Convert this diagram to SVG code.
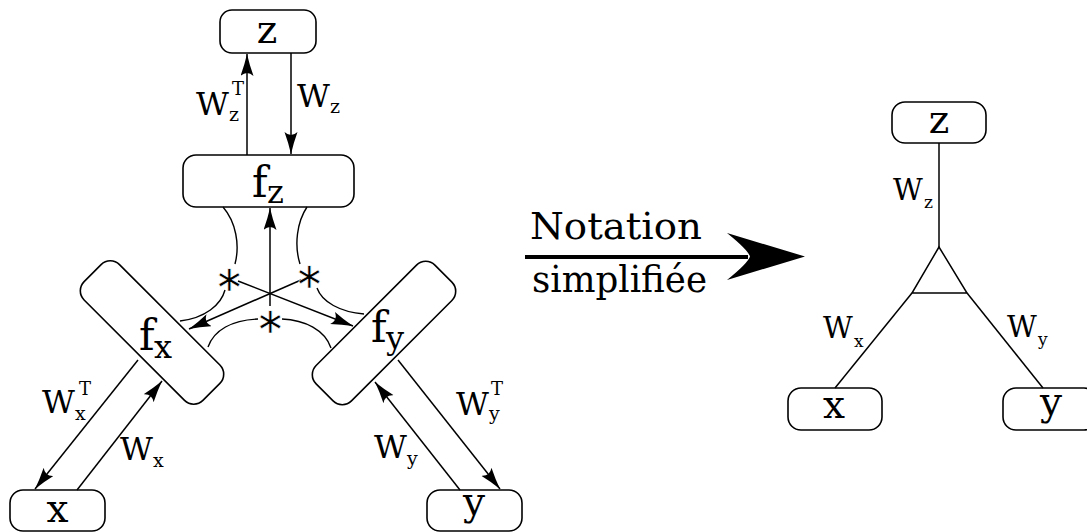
<svg xmlns="http://www.w3.org/2000/svg" width="1087" height="532" viewBox="0 0 1087 532">
<style>
.box{fill:#fff;stroke:#000;stroke-width:1.6}
.ln{fill:none;stroke:#000;stroke-width:1.5}
.arc{fill:none;stroke:#000;stroke-width:1.4}
.t{font-family:'DejaVu Serif',serif;fill:#000}
.node{font-size:39px;text-anchor:middle}
.f{font-size:42px}
.fs{font-size:32px}
.w{font-size:32px}
.ws{font-size:19px}
.wt{font-size:18px}
.w2{font-size:29px}
.ws2{font-size:17px}
.ast{font-family:'DejaVu Sans',sans-serif;font-size:36px;text-anchor:middle;dominant-baseline:central;stroke:#fff;stroke-width:0.6}
.big{font-size:38px}
</style>
<defs>
<marker id="arr" markerUnits="userSpaceOnUse" markerWidth="24" markerHeight="14" refX="22" refY="6.5" orient="auto">
<path d="M22,6.5 Q11,4 0,0 Q6,6.5 0,13 Q11,9 22,6.5 Z" fill="#000"/>
</marker>
</defs>
<rect width="1087" height="532" fill="#fff"/>

<g id="node-z">
<rect class="box" x="220" y="10" width="96" height="43" rx="12"/>
<text class="t node" x="267" y="43">z</text>
</g>
<g id="node-fz">
<rect class="box" x="183" y="155" width="171" height="52" rx="13"/>
<text class="t f" x="252" y="197">f</text>
<text class="t fs" x="267" y="203">z</text>
</g>
<g id="node-fx">
<rect class="box" x="68" y="307.5" width="168" height="50" rx="13" transform="rotate(45 152 332.5)"/>
<text class="t f" x="139" y="350">f</text>
<text class="t fs" x="154" y="358">x</text>
</g>
<g id="node-fy">
<rect class="box" x="300" y="308" width="168" height="50" rx="13" transform="rotate(-45 384 333)"/>
<text class="t f" x="371" y="342">f</text>
<text class="t fs" x="386" y="349">y</text>
</g>
<g id="node-x">
<rect class="box" x="10" y="490" width="95" height="41" rx="13"/>
<text class="t node" x="57.5" y="522">x</text>
</g>
<g id="node-y">
<rect class="box" x="427" y="490" width="95" height="41" rx="13"/>
<text class="t node" x="474" y="515">y</text>
</g>

<g id="node-z2">
<rect class="box" x="892" y="102" width="94" height="41" rx="13"/>
<text class="t node" x="939" y="133">z</text>
</g>
<g id="node-x2">
<rect class="box" x="788" y="388" width="94" height="42" rx="13"/>
<text class="t node" x="834" y="418">x</text>
</g>
<g id="node-y2">
<rect class="box" x="1003" y="388" width="94" height="42" rx="13"/>
<text class="t node" x="1051" y="415">y</text>
</g>
<g id="node-tri">
<polygon class="ln" points="939,247 912,293 967,293"/>
</g>

<g id="connectors">
<line class="ln" x1="247" y1="155" x2="247" y2="54" marker-end="url(#arr)"/>
<line class="ln" x1="291" y1="53" x2="291" y2="154" marker-end="url(#arr)"/>
<line class="ln" x1="270" y1="306" x2="270" y2="208" marker-end="url(#arr)"/>
<line class="ln" x1="238" y1="281" x2="353" y2="326" marker-end="url(#arr)"/>
<line class="ln" x1="301" y1="280" x2="189" y2="329" marker-end="url(#arr)"/>
<line class="ln" x1="138" y1="360" x2="35" y2="489" marker-end="url(#arr)"/>
<line class="ln" x1="77" y1="490" x2="162" y2="381" marker-end="url(#arr)"/>
<line class="ln" x1="398" y1="360" x2="500" y2="489" marker-end="url(#arr)"/>
<line class="ln" x1="460" y1="490" x2="375" y2="382" marker-end="url(#arr)"/>
<path class="arc" d="M223,207 C236,222 240,245 235,264"/>
<path class="arc" d="M225,290 C221,305 205,318 180,321"/>
<path class="arc" d="M307,207 C297,222 294,245 300,264"/>
<path class="arc" d="M317,288 C322,302 340,312 364,314"/>
<path class="arc" d="M208,347 C214,330 232,320 258,319"/>
<path class="arc" d="M282,319 C305,320 325,330 331,348"/>
<line class="ln" x1="939" y1="143" x2="939" y2="247"/>
<line class="ln" x1="912" y1="293" x2="835" y2="388"/>
<line class="ln" x1="967" y1="293" x2="1043" y2="388"/>
<line x1="525" y1="257" x2="748" y2="257" stroke="#000" stroke-width="4"/>
<path d="M805,256.5 L727,233 Q748,250 750,256.5 Q748,263 727,280 Z" fill="#000"/>
</g>

<g id="asterisks">
<text class="ast" x="229" y="278">∗</text>
<text class="ast" x="309" y="275">∗</text>
<text class="ast" x="270" y="320">∗</text>
</g>

<g id="labels">
<text class="t w" x="196" y="115">W<tspan class="ws" x="229" y="121">z</tspan><tspan class="wt" x="232" y="95">T</tspan></text>
<text class="t w" x="297" y="107">W<tspan class="ws" x="330" y="113">z</tspan></text>
<text class="t w" x="42" y="413">W<tspan class="ws" x="75" y="420">x</tspan><tspan class="wt" x="79" y="395">T</tspan></text>
<text class="t w" x="120" y="460">W<tspan class="ws" x="153" y="467">x</tspan></text>
<text class="t w" x="456" y="415">W<tspan class="ws" x="489" y="420">y</tspan><tspan class="wt" x="491" y="395">T</tspan></text>
<text class="t w" x="374" y="458">W<tspan class="ws" x="407" y="465">y</tspan></text>
<text class="t w2" x="893" y="200">W<tspan class="ws2" x="924" y="208">z</tspan></text>
<text class="t w2" x="823" y="338">W<tspan class="ws2" x="854" y="347">x</tspan></text>
<text class="t w2" x="1007" y="337">W<tspan class="ws2" x="1038" y="345">y</tspan></text>
<text class="t big" x="530" y="239" textLength="172" lengthAdjust="spacingAndGlyphs">Notation</text>
<text class="t big" x="532" y="292" textLength="175" lengthAdjust="spacingAndGlyphs">simplifiée</text>
</g>
</svg>
